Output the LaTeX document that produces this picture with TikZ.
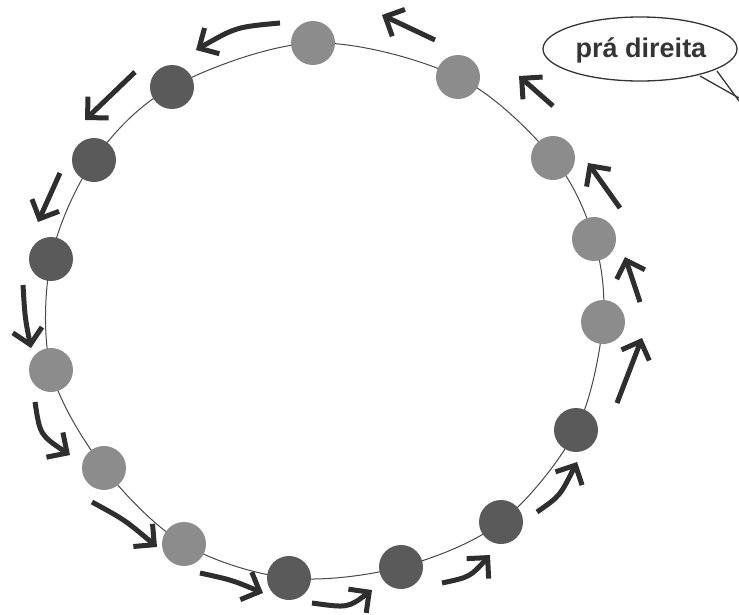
\documentclass[tikz,border=0pt]{standalone}
\usepackage{fontspec}
\setmainfont{Liberation Sans}
\usetikzlibrary{arrows.meta,shapes.geometric}
\definecolor{ballL}{HTML}{8C8C8C}
\definecolor{ballD}{HTML}{5A5A5A}
\definecolor{ink}{HTML}{353535}
\definecolor{arrowink}{HTML}{2E2E2E}
\tikzset{
  ball/.style={circle,inner sep=0pt,minimum size=44pt},
  lball/.style={ball,fill=ballL},
  dball/.style={ball,fill=ballD},
  ring/.style={draw=ink!90,line width=1pt},
  mover/.style={draw=arrowink,line width=5pt,-{Straight Barb[angle=90:21pt]}},
  bubble/.style={draw=ink,line width=1.3pt,fill=white},
  bubbleline/.style={draw=ink,line width=1.3pt}
}
\begin{document}
\begin{tikzpicture}[x=1pt,y=-1pt]
\useasboundingbox (0,0) rectangle (739,614);
\fill[white] (0,0) rectangle (739,614);
% ring line through ball centres
\draw[ring] plot[smooth cycle,tension=0.55] coordinates {
 (313,43) (458,77) (553,158) (594,239) (603,322) (576,430) (501,522)
 (401,567) (289,578) (184,544) (104,468) (51,370) (51,259) (94,160) (172,87)};
% balls
\node[lball] (b1)  at (313,43)  {};
\node[lball] (b2)  at (458,77)  {};
\node[lball] (b3)  at (553,158) {};
\node[lball] (b4)  at (594,239) {};
\node[lball] (b5)  at (603,322) {};
\node[dball] (b6)  at (576,430) {};
\node[dball] (b7)  at (501,522) {};
\node[dball] (b8)  at (401,567) {};
\node[dball] (b9)  at (289,578) {};
\node[lball] (b10) at (184,544) {};
\node[lball] (b11) at (104,468) {};
\node[lball] (b12) at (51,370)  {};
\node[dball] (b13) at (51,259)  {};
\node[dball] (b14) at (94,160)  {};
\node[dball] (b15) at (172,87)  {};
% arrow end points
\coordinate (t1) at (280,23);  \coordinate (h1) at (196,50);
\coordinate (t2) at (135,72);  \coordinate (h2) at (85,120);
\coordinate (t3) at (60,173);  \coordinate (h3) at (38,222);
\coordinate (t4) at (23,285);  \coordinate (h4) at (31,348);
\coordinate (t5) at (35,402);  \coordinate (h5) at (70,455);
\coordinate (t6) at (92,502);  \coordinate (h6) at (157,547);
\coordinate (t7) at (200,573); \coordinate (h7) at (263,593);
\coordinate (t8) at (312,603); \coordinate (h8) at (372,590);
\coordinate (t9) at (442,583); \coordinate (h9) at (490,555);
\coordinate (t10) at (537,512); \coordinate (h10) at (577,462);
\coordinate (t11) at (617,403); \coordinate (h11) at (642,338);
\coordinate (t12) at (640,302); \coordinate (h12) at (625,257);
\coordinate (t13) at (620,208); \coordinate (h13) at (588,163);
\coordinate (t14) at (553,106); \coordinate (h14) at (519,76);
\coordinate (t15) at (435,40);  \coordinate (h15) at (382,15);
% arrows
\draw[mover] (t1) .. controls (236,27) .. (h1);
\draw[mover] (t2) -- (h2);
\draw[mover] (t3) -- (h3);
\draw[mover] (t4) .. controls (25,318) .. (h4);
\draw[mover] (t5) .. controls (40,435) .. (h5);
\draw[mover] (t6) .. controls (125,520) .. (h6);
\draw[mover] (t7) .. controls (232,580) .. (h7);
\draw[mover] (t8) .. controls (348,608) .. (h8);
\draw[mover] (t9) .. controls (470,577) .. (h9);
\draw[mover] (t10) .. controls (560,496) .. (h10);
\draw[mover] (t11) -- (h11);
\draw[mover] (t12) -- (h12);
\draw[mover] (t13) -- (h13);
\draw[mover] (t14) -- (h14);
\draw[mover] (t15) -- (h15);
% speech bubble
\coordinate (k1) at (700,76);
\coordinate (k2) at (717,71);
\coordinate (k3) at (739,98);
\coordinate (k4) at (739,101);
\node[bubble,ellipse,minimum width=194pt,minimum height=64pt,inner sep=0pt] (say) at (640,49) {};
\fill[white] (k1) -- (k3) -- (k4) -- (k2) -- cycle;
\draw[bubbleline] (k1) -- (k3);
\draw[bubbleline] (k2) -- (k4);
\node[text=ink,font=\bfseries\fontsize{27}{30}\selectfont] (txt) at (641,50) {prá direita};
\end{tikzpicture}
\end{document}
